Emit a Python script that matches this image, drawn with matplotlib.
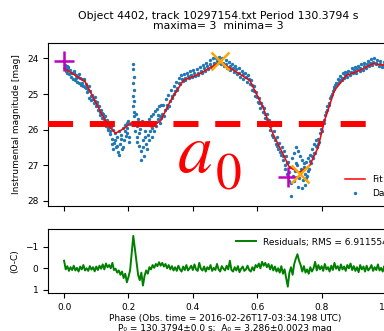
import numpy as np
import matplotlib.pyplot as plt

# Подгонка (красная линия): фаза и звездная величина
fit_phase = [0.0, 0.03, 0.065, 0.09, 0.117, 0.137, 0.16, 0.184, 0.21, 0.236, 0.27,
             0.30, 0.329, 0.37, 0.422, 0.484, 0.535, 0.577, 0.618, 0.649, 0.68,
             0.70, 0.732, 0.763, 0.789, 0.809, 0.84, 0.877, 0.918, 0.959, 0.98, 1.0]
fit_mag = [24.28, 24.45, 24.65, 25.09, 25.56, 25.89, 26.10, 25.98, 25.80, 25.79, 25.92,
           25.75, 25.22, 24.62, 24.43, 24.10, 24.38, 24.62, 25.37, 26.12, 26.68,
           27.06, 27.20, 27.01, 26.50, 25.75, 24.90, 24.48, 24.34, 24.15, 24.17, 24.20]

# Измерения (синие точки), первая часть
data_phase_a = [
    0.002, 0.005, 0.008, 0.010, 0.013, 0.016, 0.019, 0.022, 0.025, 0.028, 0.031, 0.034,
    0.037, 0.040, 0.043, 0.046, 0.049, 0.052, 0.055, 0.058, 0.061,
    0.064, 0.068, 0.071, 0.075, 0.078, 0.082, 0.085, 0.088, 0.092, 0.095, 0.098, 0.102,
    0.105, 0.108, 0.112, 0.115, 0.118, 0.122, 0.125, 0.128, 0.131, 0.134, 0.137,
    0.140, 0.143, 0.146, 0.149, 0.152, 0.155, 0.158, 0.161, 0.164, 0.167, 0.170, 0.173,
    0.176, 0.179, 0.182, 0.185, 0.188, 0.191, 0.194, 0.197, 0.200, 0.203, 0.206,
    0.214, 0.215, 0.216, 0.214, 0.216, 0.215, 0.217, 0.214, 0.216, 0.218,
    0.222, 0.225, 0.228, 0.231, 0.234, 0.237, 0.240, 0.243, 0.246, 0.249, 0.252, 0.255,
    0.258, 0.261, 0.264, 0.267, 0.270, 0.273, 0.276, 0.279, 0.282, 0.285, 0.288, 0.291,
    0.294, 0.297, 0.300,
    0.304, 0.308, 0.312, 0.316, 0.320, 0.324, 0.328, 0.332, 0.336, 0.340, 0.344, 0.348,
    0.352, 0.356, 0.360, 0.364, 0.368,
    0.372, 0.377, 0.382, 0.387, 0.392, 0.397, 0.402, 0.407, 0.412, 0.417, 0.422, 0.427,
    0.432, 0.437, 0.442, 0.447, 0.452, 0.457, 0.462, 0.467, 0.472, 0.477, 0.482, 0.487,
    0.492, 0.497, 0.502, 0.507, 0.512, 0.517, 0.522, 0.527, 0.532, 0.537, 0.542, 0.547,
    0.552, 0.557, 0.562, 0.567, 0.572, 0.577,
    0.581, 0.585, 0.589, 0.593, 0.597, 0.601, 0.605, 0.609, 0.613, 0.617, 0.621, 0.625,
    0.629, 0.633, 0.637, 0.641, 0.645, 0.649, 0.653, 0.657, 0.661, 0.665, 0.669, 0.673,
    0.677,
    0.681, 0.684, 0.687, 0.690, 0.693, 0.696, 0.699, 0.702, 0.705, 0.708, 0.711, 0.714,
    0.717, 0.720, 0.723, 0.726, 0.729, 0.732, 0.735, 0.738, 0.741, 0.744, 0.747, 0.750,
    0.753, 0.756, 0.759, 0.762, 0.765, 0.768, 0.771, 0.774, 0.777, 0.780, 0.783, 0.786,
    0.790, 0.794, 0.798, 0.802, 0.806, 0.810, 0.814, 0.818, 0.822, 0.826, 0.830, 0.834,
    0.838, 0.842, 0.846, 0.850, 0.854, 0.858, 0.862, 0.866, 0.870, 0.874,
    0.878, 0.883, 0.888, 0.893, 0.898, 0.903, 0.908, 0.913, 0.918, 0.923, 0.928, 0.933,
    0.938, 0.943, 0.948, 0.953, 0.958, 0.963, 0.968, 0.973, 0.978, 0.983, 0.988, 0.993,
    0.998]
data_mag_a = [
    24.18, 24.35, 24.22, 24.40, 24.30, 24.45, 24.33, 24.52, 24.40, 24.58, 24.42, 24.60,
    24.48, 24.66, 24.52, 24.70, 24.55, 24.74, 24.58, 24.78, 24.62,
    24.80, 24.72, 24.95, 24.88, 25.10, 24.92, 25.18, 25.02, 25.25, 25.08, 25.35, 25.22,
    25.45, 25.33, 25.58, 25.44, 25.68, 25.55, 25.78, 25.62, 25.90, 25.74, 26.02,
    25.85, 26.12, 25.92, 26.25, 26.02, 26.38, 26.10, 26.50, 26.20, 26.62, 26.05, 26.40,
    26.15, 26.55, 25.95, 26.30, 25.88, 26.18, 25.80, 26.10, 25.75, 26.35, 25.85,
    24.15, 24.30, 24.52, 24.70, 24.88, 25.05, 25.20, 25.35, 25.50, 25.62,
    25.55, 25.90, 26.20, 25.70, 26.45, 25.98, 26.60, 25.75, 26.30, 26.75, 26.05, 26.40,
    25.85, 26.15, 25.70, 26.05, 25.62, 25.95, 25.55, 25.85, 25.48, 25.78, 25.42, 25.70,
    25.35, 25.62, 25.30,
    25.55, 25.30, 25.45, 25.15, 25.32, 25.02, 25.20, 24.90, 25.05, 24.78, 24.92, 24.65,
    24.82, 24.55, 24.72, 24.48, 24.64,
    24.45, 24.60, 24.40, 24.56, 24.35, 24.52, 24.32, 24.50, 24.30, 24.48, 24.25, 24.42,
    24.18, 24.36, 24.12, 24.30, 24.05, 24.24, 24.00, 24.18, 23.98, 24.12, 23.95, 24.15,
    24.00, 24.20, 24.05, 24.26, 24.10, 24.32, 24.15, 24.38, 24.22, 24.45, 24.28, 24.52,
    24.35, 24.58, 24.42, 24.65, 24.48, 24.72,
    24.60, 24.90, 24.78, 25.05, 24.95, 25.22, 25.10, 25.40, 25.25, 25.50, 25.40, 25.68,
    25.55, 25.85, 25.72, 26.02, 25.88, 26.20, 26.05, 26.40, 26.22, 26.55, 26.38, 26.70,
    26.50,
    26.85, 26.60, 27.00, 26.75, 27.25, 26.90, 27.45, 27.05, 27.85, 26.80, 27.30, 26.65,
    27.15, 26.50, 27.00, 26.60, 27.35, 26.75, 27.10, 26.85, 27.40, 26.95, 27.25, 27.55,
    26.90, 27.30, 26.80, 27.10, 26.70, 26.95, 26.55, 26.80, 26.40, 26.65, 26.30, 26.50,
    26.25, 26.10, 25.98, 25.85, 25.72, 25.60, 25.50, 25.35, 25.25, 25.10, 25.05, 24.92,
    24.85, 24.75, 24.70, 24.58, 24.65, 24.50, 24.60, 24.42, 24.55, 24.38,
    24.52, 24.35, 24.48, 24.28, 24.42, 24.25, 24.40, 24.20, 24.36, 24.15, 24.32, 24.12,
    24.28, 24.08, 24.22, 24.02, 24.18, 24.00, 24.15, 24.05, 24.22, 24.08, 24.25, 24.10,
    24.28]

# Измерения, вторая часть (между первыми)
data_phase_b = [
    0.0035, 0.0115, 0.0205, 0.0295, 0.0385, 0.0475, 0.0565, 0.0625, 0.0695, 0.0765,
    0.0835, 0.0905, 0.0965, 0.1035, 0.1105, 0.1165, 0.1235, 0.1295, 0.1355, 0.1415,
    0.1475, 0.1535, 0.1595, 0.1655, 0.1715, 0.1775, 0.1835, 0.1895, 0.1955, 0.2015,
    0.2195, 0.2265, 0.2325, 0.2385, 0.2445, 0.2505, 0.2565, 0.2625, 0.2685, 0.2745,
    0.2805, 0.2865, 0.2925, 0.2985, 0.3025, 0.3105, 0.3185, 0.3265, 0.3345, 0.3425,
    0.3505, 0.3585, 0.3665, 0.3745, 0.3845, 0.3945, 0.4045, 0.4145, 0.4245, 0.4345,
    0.4445, 0.4545, 0.4645, 0.4745, 0.4845, 0.4945, 0.5045, 0.5145, 0.5245, 0.5345,
    0.5445, 0.5545, 0.5645, 0.5745, 0.5830, 0.5910, 0.5990, 0.6070, 0.6150, 0.6230,
    0.6310, 0.6390, 0.6470, 0.6550, 0.6630, 0.6710, 0.6790, 0.6855, 0.6915, 0.6975,
    0.7035, 0.7095, 0.7155, 0.7215, 0.7275, 0.7335, 0.7395, 0.7455, 0.7515, 0.7575,
    0.7635, 0.7695, 0.7755, 0.7815, 0.7875, 0.7920, 0.8000, 0.8080, 0.8160, 0.8240,
    0.8320, 0.8400, 0.8480, 0.8560, 0.8640, 0.8720, 0.8805, 0.8905, 0.9005, 0.9105,
    0.9205, 0.9305, 0.9405, 0.9505, 0.9605, 0.9705, 0.9805, 0.9905, 0.9975]
data_mag_b = [
    24.28, 24.25, 24.42, 24.36, 24.55, 24.45, 24.68, 24.58, 24.82, 24.78,
    25.05, 25.15, 25.20, 25.30, 25.50, 25.52, 25.70, 25.82, 25.95, 26.05,
    26.40, 26.55, 26.28, 26.45, 26.70, 26.25, 26.48, 26.05, 25.95, 26.20,
    26.05, 26.35, 26.10, 26.85, 26.50, 26.20, 26.55, 26.30, 25.88, 26.20,
    26.05, 25.90, 25.60, 25.80, 25.68, 25.62, 25.40, 25.35, 25.12, 25.00,
    24.88, 24.68, 24.58, 24.55, 24.50, 24.46, 24.42, 24.40, 24.35, 24.28,
    24.22, 24.15, 24.12, 24.08, 24.05, 24.12, 24.15, 24.22, 24.28, 24.30,
    24.40, 24.45, 24.52, 24.58, 24.75, 24.92, 25.08, 25.25, 25.35, 25.55,
    25.70, 25.90, 26.15, 26.30, 26.45, 26.62, 26.75, 27.10, 26.95, 27.20,
    27.50, 27.05, 27.45, 26.95, 27.60, 27.20, 27.65, 27.05, 27.35, 27.15,
    26.88, 26.75, 26.65, 26.45, 26.40, 26.35, 26.05, 25.80, 25.45, 25.30,
    25.00, 24.80, 24.72, 24.62, 24.55, 24.48, 24.42, 24.38, 24.32, 24.30,
    24.26, 24.22, 24.15, 24.12, 24.10, 24.12, 24.15, 24.18, 24.15]

# Экстремумы
max_phase = [0.0, 0.484]
max_mag = [24.06, 24.06]
min_phase = [0.696, 0.732]
min_mag = [27.34, 27.25]

# Остатки O-C (шаг по фазе 0.005)
resid = [
    -0.35, 0.05, -0.10, 0.12, -0.05, 0.08, -0.12, 0.10, -0.02, 0.15,
    -0.08, 0.05, -0.15, 0.10, 0.00, 0.12, -0.10, 0.06, -0.05, 0.14,
    -0.08, 0.08, -0.12, 0.02, -0.18, 0.05, -0.22, -0.05, -0.15, 0.00,
    -0.25, 0.08, 0.02, 0.20, 0.10, 0.30, 0.15, 0.45, 0.25, 0.65,
    0.40, 0.10, -0.70, -1.50, -0.90, -0.30, 0.30, 0.55, 0.20, 0.80,
    0.35, 0.10, 0.25, -0.05, 0.05, -0.15, -0.02, -0.20, -0.10, -0.28,
    -0.12, -0.25, -0.08, -0.20, 0.00, -0.15, 0.05, -0.10, 0.10, -0.05,
    0.12, -0.12, 0.05, 0.15, -0.08, 0.08, -0.15, 0.10, 0.00, -0.12,
    0.08, -0.18, 0.05, 0.12, -0.25, 0.02, 0.10, -0.08, 0.15, -0.05,
    0.05, -0.15, 0.12, -0.02, 0.08, -0.20, 0.05, 0.15, -0.10, 0.02,
    0.10, -0.12, 0.05, -0.35, 0.08, 0.15, -0.05, 0.10, -0.10, 0.18,
    0.02, -0.08, 0.12, 0.05, -0.12, 0.08, 0.15, -0.05, 0.10, -0.15,
    -0.05, -0.22, 0.00, -0.30, -0.12, -0.25, -0.05, -0.20, 0.05, -0.15,
    0.10, -0.08, 0.15, 0.00, 0.20, -0.10, 0.25, 0.05, 0.45, 0.85,
    0.20, -0.05, 0.30, -0.20, -0.45, -0.65, -0.35, -0.15, 0.15, -0.10,
    0.20, 0.05, 0.25, -0.05, 0.15, 0.00, -0.30, 0.10, -0.15, 0.05,
    -0.10, 0.12, -0.20, 0.05, -0.05, 0.15, -0.12, 0.08, -0.25, 0.02,
    -0.10, 0.10, -0.18, 0.05, -0.08, 0.12, -0.15, 0.00, -0.22, 0.08,
    -0.10, 0.12, -0.05, 0.18, -0.15, 0.05, -0.08, 0.15, -0.12, 0.10,
    0.00, -0.15, 0.12, -0.05, 0.08, -0.18, 0.10, -0.02, 0.15, -0.10,
    0.05]
resid_phase = np.linspace(0.0, 1.0, len(resid))

a0_level = 25.85

fig = plt.figure(figsize=(3.84, 3.31), dpi=100)
ax1 = fig.add_axes([0.125, 0.378, 0.922, 0.493])
ax2 = fig.add_axes([0.125, 0.115, 0.922, 0.192], sharex=ax1)

fs = 6.5
line_fit, = ax1.plot(fit_phase, fit_mag, color='red', lw=1.1, label='Fit', zorder=3)
pts = ax1.scatter(data_phase_a + data_phase_b, data_mag_a + data_mag_b, s=2,
                  color='#1f77b4', label='Data', zorder=2)
ax1.plot(max_phase[:1], max_mag[:1], '+', color='m', ms=14, mew=1.8, zorder=4)
ax1.plot(min_phase[:1], min_mag[:1], '+', color='m', ms=14, mew=1.8, zorder=4)
ax1.plot(max_phase[1:], max_mag[1:], 'x', color='orange', ms=13, mew=1.8, zorder=4)
ax1.plot(min_phase[1:], min_mag[1:], 'x', color='orange', ms=13, mew=1.8, zorder=4)
ax1.set_xlim(-0.05, 1.05)
ax1.set_ylim(28.14, 23.56)
ax1.set_yticks([24, 25, 26, 27, 28])
ax1.tick_params(labelsize=fs, labelbottom=False)
ax1.set_ylabel('Instrumental magnitude [mag]', fontsize=fs)
ax1.set_title('Object 4402, track 10297154.txt Period 130.3794 s\nmaxima= 3  minima= 3',
              fontsize=7.8, x=0.48, pad=10, linespacing=0.95)
ax1.legend([line_fit, pts], ['Fit', 'Data'], loc='lower right', fontsize=fs,
           handlelength=2.2, frameon=False)

# наложенная линия a0 и подпись
ax1.axhline(a0_level, xmin=0.0, xmax=0.90, color='red', lw=4.3,
            dashes=(4.2, 2.8), zorder=5)
ax1.text(0.466, 0.208, 'a', color='red', fontsize=50, family='STIXGeneral',
         style='italic', ha='right', va='baseline', transform=ax1.transAxes, zorder=6)
ax1.text(0.474, 0.098, '0', color='red', fontsize=37, family='STIXGeneral',
         ha='left', va='baseline', transform=ax1.transAxes, zorder=6)

ax2.plot(resid_phase, resid, color='#008000', lw=1.4,
         label='Residuals; RMS = 6.9115545')
ax2.set_ylim(1.14, -1.80)
ax2.set_yticks([-1, 0, 1])
ax2.set_xticks([0.0, 0.2, 0.4, 0.6, 0.8, 1.0])
ax2.tick_params(labelsize=fs)
ax2.set_ylabel('(O-C)', fontsize=fs)
ax2.set_xlabel('Phase (Obs. time = 2016-02-26T17-03:34.198 UTC)\n'
               'P₀ = 130.3794±0.0 s;  A₀ = 3.286±0.0023 mag', fontsize=fs, labelpad=1.5)
ax2.legend(loc='upper right', fontsize=fs, frameon=False, handlelength=2.2)

fig.savefig('out.png', dpi=100)
